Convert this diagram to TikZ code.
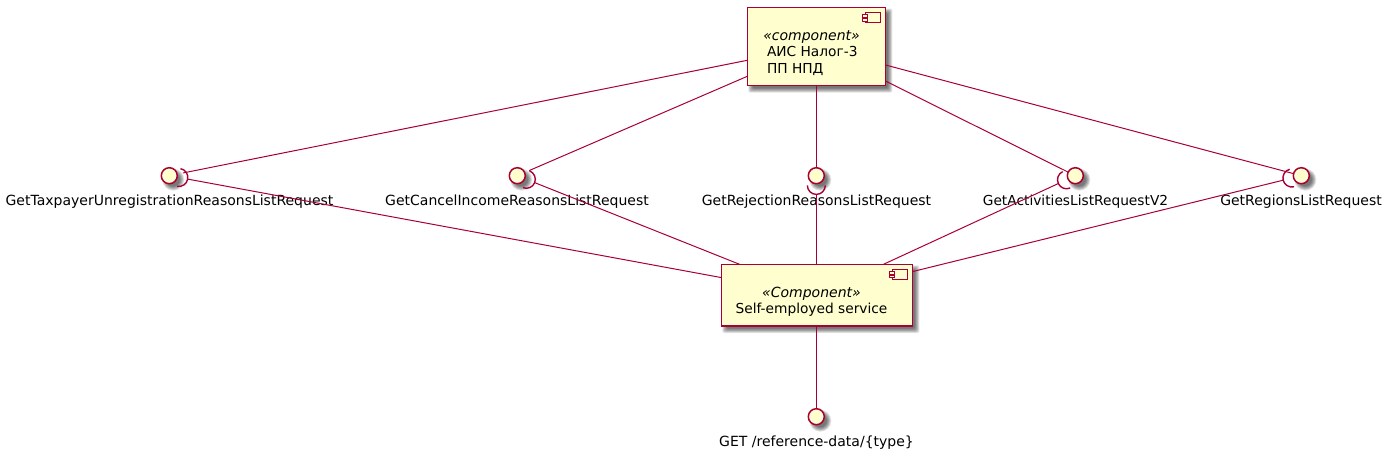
\documentclass[tikz,border=0pt]{standalone}
\usepackage{fontspec}
\setmainfont{DejaVu Sans}
\usetikzlibrary{calc}
\definecolor{umlfill}{HTML}{FEFECE}
\definecolor{umlline}{HTML}{A80036}
\tikzset{
  x=1pt,y=-1pt,
  compbox/.style={draw=umlline,fill=umlfill,line width=1.5pt,rectangle,inner sep=0pt,outer sep=0pt},
  iface/.style={draw=umlline,fill=umlfill,line width=1.5pt,circle,inner sep=0pt,outer sep=0pt,minimum size=16pt},
  link/.style={draw=umlline,line width=1pt},
  socketarc/.style={draw=umlline,line width=1.4pt},
  iconpart/.style={draw=umlline,fill=umlfill,line width=1.5pt},
  icontab/.style={draw=umlline,fill=umlfill,line width=0.9pt},
  lbl/.style={inner sep=0pt,outer sep=0pt,anchor=base,font=\fontsize{14}{16}\selectfont},
  lblnarrow/.style={lbl,font=\fontsize{13.75}{16}\selectfont},
  stereo/.style={lbl,font=\fontsize{14}{16}\selectfont\itshape},
  glow/.style={fill=black,opacity=0.1,draw=none}
}
% soft drop shadows, by stacking translucent shapes
\newcommand{\boxshadow}[4]{%
  \foreach \g in {-1.5,-0.75,0,0.75,1.5,2.25,3}{%
    \fill[glow,rounded corners=2pt] ({#1+4-\g},{#2+4-\g}) rectangle ({#3+4+\g},{#4+4+\g});}}
\newcommand{\discshadow}[2]{%
  \foreach \g in {6.5,7.25,8,8.75,9.5,10.25,11}{%
    \fill[glow] ({#1+4},{#2+4}) circle[radius=\g pt];}}
% socket half circle in front of an interface, opening towards it
\newcommand{\socket}[2]{%
  \draw[socketarc] ($(#1)!9.7pt!(bot)$) ++({#2-90}:9pt) arc[start angle={#2-90},delta angle=180,radius=9pt];}
% component icon at the top right of a box
\newcommand{\compicon}[1]{%
  \draw[iconpart] ($(#1.north east)+(-20,5)$) rectangle ($(#1.north east)+(-5,15)$);
  \draw[icontab] ($(#1.north east)+(-22.5,7.2)$) rectangle ($(#1.north east)+(-17.5,10)$);
  \draw[icontab] ($(#1.north east)+(-22.5,10.8)$) rectangle ($(#1.north east)+(-17.5,13.6)$);}
\begin{document}
\begin{tikzpicture}
\useasboundingbox (0,0) rectangle (1388,453);
\boxshadow{747.3}{7.5}{885.3}{85.7}
\boxshadow{721.3}{264.3}{912.3}{326}
\discshadow{169.3}{175.7}
\discshadow{517.3}{175.7}
\discshadow{816.3}{175.7}
\discshadow{1075.3}{175.7}
\discshadow{1301.3}{175.7}
\discshadow{816.3}{416.7}

\node[compbox,minimum width=138pt,minimum height=78.2pt] (top) at (816.3,46.6) {};
\node[compbox,minimum width=191pt,minimum height=61.7pt] (bot) at (816.8,295.15) {};
\compicon{top}
\compicon{bot}

\node[stereo] (t1) at (811.5,40) {«component»};
\node[lblnarrow,anchor=base west] (t2) at (767,56.5) {АИС Налог-3};
\node[lblnarrow,anchor=base west] (t3) at (767,73) {ПП НПД};
\node[stereo] (b1) at (811.5,297) {«Component»};
\node[lblnarrow] (b2) at (811.5,313) {Self-employed service};

\node[lbl] (l1) at (169.5,205) {GetTaxpayerUnregistrationReasonsListRequest};
\node[lbl] (l2) at (517,205) {GetCancelIncomeReasonsListRequest};
\node[lbl] (l3) at (816.5,205) {GetRejectionReasonsListRequest};
\node[lblnarrow] (l4) at (1075.5,205) {GetActivitiesListRequestV2};
\node[lbl] (l5) at (1301,205) {GetRegionsListRequest};
\node[lbl] (l6) at (816.5,446) {GET /reference-data/\{type\}};

\node[iface] (i1) at (169.3,175.7) {};
\node[iface] (i2) at (517.3,175.7) {};
\node[iface] (i3) at (816.3,175.7) {};
\node[iface] (i4) at (1075.3,175.7) {};
\node[iface] (i5) at (1301.3,175.7) {};
\node[iface] (i6) at (816.3,416.7) {};

\draw[link,shorten >=6pt] (top) -- (i1);
\draw[link,shorten >=5pt] (top) -- (i2);
\draw[link] (top.south -| i3) -- (i3);
\draw[link] (top) -- (i4);
\draw[link] (top) -- (i5);

\socket{i1}{-10.4}
\socket{i2}{-21.6}
\socket{i3}{-90}
\socket{i4}{204.8}
\socket{i5}{193.8}

\draw[link,shorten <=10.7pt] (i1) -- (bot);
\draw[link,shorten <=10.7pt] (i2) -- (bot);
\draw[link,shorten <=10.7pt] (i3) -- (i3 |- bot.north);
\draw[link,shorten <=10.7pt] (i4) -- (bot);
\draw[link,shorten <=10.7pt] (i5) -- (bot);
\draw[link] (bot.south -| i6) -- (i6);
\end{tikzpicture}
\end{document}
